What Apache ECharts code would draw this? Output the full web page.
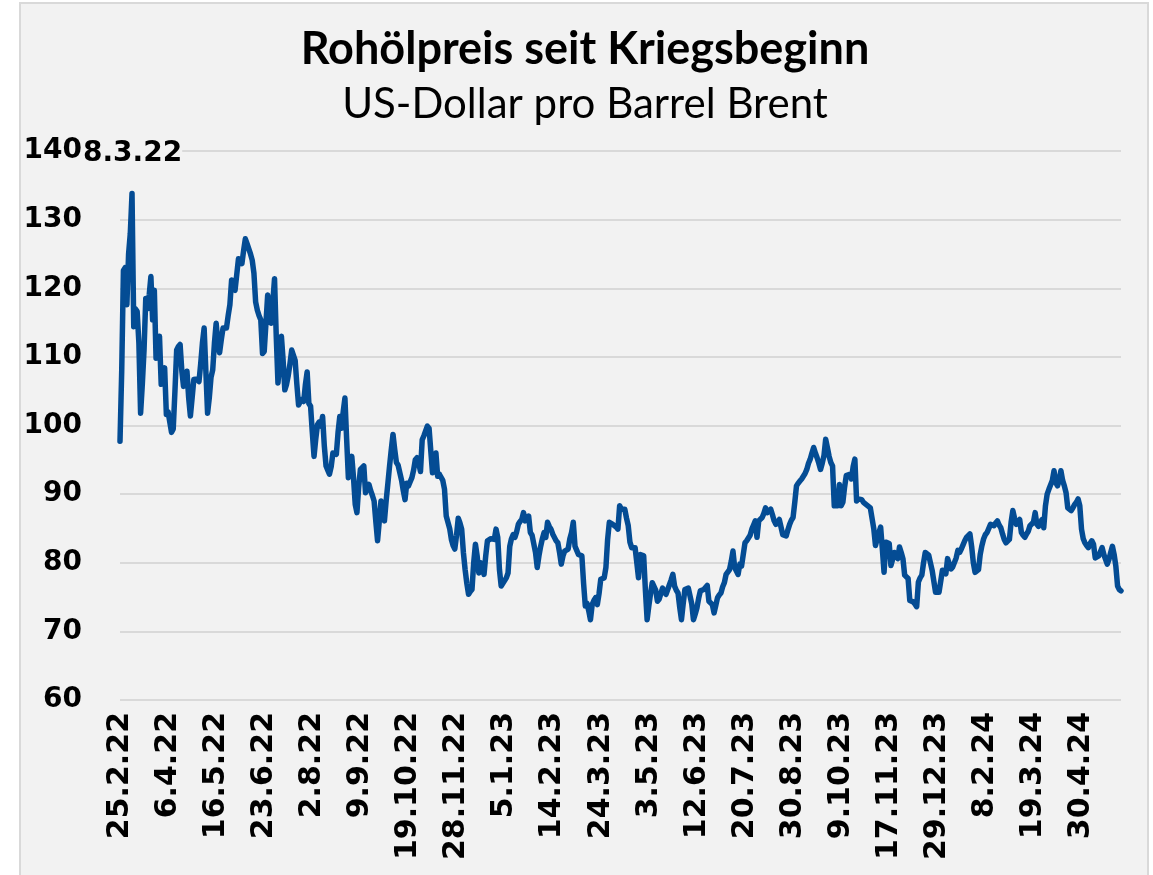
<!DOCTYPE html>
<html>
<head>
<meta charset="utf-8">
<script src="https://cdn.jsdelivr.net/npm/echarts@6/dist/echarts.min.js"></script>
<style>
  html, body { margin: 0; padding: 0; background: #ffffff; width: 1153px; height: 875px; overflow: hidden; }
  #frame { position: absolute; left: 19px; top: 2px; width: 1126px; height: 900px; background: #f2f2f2; border: 2px solid #d9d9d9; }
  #chart { position: absolute; left: 0; top: 0; width: 1153px; height: 875px; }
</style>
</head>
<body>
<div id="frame"></div>
<div id="chart"></div>
<script>
// Tick labels shown every 28 trading days
const tickLabels = ['25.2.22','6.4.22','16.5.22','23.6.22','2.8.22','9.9.22','19.10.22','28.11.22','5.1.23','14.2.23','24.3.23','3.5.23','12.6.23','20.7.23','30.8.23','9.10.23','17.11.23','29.12.23','8.2.24','19.3.24','30.4.24'];
const tickStep = 28;
const peakLabel = '8.3.22';
const yTicks = [60, 70, 80, 90, 100, 110, 120, 130, 140];

// Brent price, USD per barrel, one value per trading day from 25.2.22
const prices2022a = [
  97.7,108,122.6,123,117.6,125,128,133.8,114.4,117,116.6,112,101.8,106,111,118.5,117,119,121.7,115.4,
  119.7,109.8,110.5,113,106,107,108.4,101.6,102,100.5,99,99.5,105,111,111.5,111.8,108,105.7,106.5,107.9,
  104,101.4,104,106.7,106.5,106.8,106.4,109,112,114.2,108,101.8,104,107,108.1,112,114.9,112,110.6,112.5,
  114.2,114,114.2,116,117.6,121.2,120,119.7,122,124.3,124.5,123.6,125.5,127.2,126.5,126.3,125,124.1,122.2,118,
  116.8,116,115.4,110.5,110.8,111,119,117,114.9,118,121.4,113,106.2,109,113,109.5,105.2,106,107.3,109
];
const prices2022b = [
  111,111.2,109.5,106,103,103.5,103.8,103.5,106,107.8,103.2,102.8,99,95.5,98,100.1,100.5,99.9,101.3,97,
  94.1,93.5,92.9,94,96,96.2,95.8,99,101.3,99.6,102,104,98,92.4,94,95.5,92.4,88.5,87.3,91,
  93.6,93.8,94.1,90.2,91,91.4,90.5,89.8,89,86,83.2,86,89,88,86.1,89,91.5,94.1,96.5,98.7,
  96.5,94.6,94.2,94.3,92,90.5,89.2,91.6,91.2,91.8,92.4,93.5,95,95.3,94.5,93.3,97.9,98.5,99.2,99.9,
  99.6,99.4,93.1,95,96,92.6,92.9,93.1,92,90.7,86.8,87,85,83.4,82.5,82,84,86.5,85.8,84.9
];
const prices2023a = [
  81.5,79,77,75.4,75.8,76.1,80,82.7,81,78.5,80,79.5,78.3,81,83.2,83.3,83.5,83.7,83.4,84.9,
  83.7,79,76.6,77,77.1,77.8,78.5,82.4,83.5,84.1,83.7,84.5,85.6,86,86.3,87.3,86.1,86.5,86.8,84.4,
  84,83.9,81.5,79.3,81,82.4,83.5,84.4,83.7,85.9,85.3,84.9,84.2,83.7,83.2,82.9,81.5,79.8,81,81.7,
  81.9,82,83.5,84.4,85.9,82.4,81.8,81.2,81.1,81,77,73.7,74.1,73,71.7,73.9,74.5,74.9,73.9,75.5,
  77.6,77.8,77.8,79.3,83.4,85.9,85.8,85.6,85.6,85.2,84.9,88.3,87.8,87.6,87.8,86.5,85.4,83,82.2,82
];
const prices2023b = [
  82.2,80,77.8,81.2,81.1,81,76,71.7,73.7,75.5,77.1,77.3,76,74.4,74.7,74.9,76.3,75.8,75.4,76.1,
  76.8,77.5,78.3,76.6,76,75.6,73.5,71.7,74,76.1,76.2,76.3,76.1,74,71.7,72.5,73.4,74.8,75.9,76,
  76.1,76.4,76.7,74.4,74.2,73.9,72.7,73.8,74.9,75.3,75.6,76.5,77.1,78.3,78.5,79,80.2,81.7,79.3,78.8,
  78.3,79.8,79.5,79.3,82.9,83.2,83.4,84,84.9,85.5,86.1,83.7,86.1,86.3,86.6,87.2,88,87.3,87.5,87.8,
  87,86.1,85.6,85.4,86.3,85.2,84.1,84,83.9,84.8,85.6,86.2,86.6,88.8,91.2,91.6,91.9,92.2,92.4,93
];
const prices2023c = [
  93.6,94.5,95.1,96,96.8,96,95.3,94.5,93.6,94.5,95.6,98,96.8,95.5,94.6,94.1,88.3,88.5,88.3,91.4,
  88.3,88.8,91,92.7,92.8,92.9,92.2,94,95.1,89,89.3,89.5,89.2,88.8,88.6,88.4,88.3,88,87.8,85,
  82.5,83.5,84.4,85.2,82,78.6,83,82.9,82.8,79.6,80.5,81.5,81,80.6,82.3,81.5,80.6,78.2,78,77.7,
  74.5,74.4,74.3,74,73.6,77.2,77.8,78.2,80,81.5,81.3,81.1,80,78.9,77.3,75.7,75.7,75.7,75.7,78.9,
  78.7,78.4,80.6,79.8,79.1,79.4,79.6,80.7,81.8,81.5,82,82.6,83.2,83.7,83.9,84.2,82.4,80,78.6,78.8
];
const prices2024 = [
  79,81.2,82.5,83.5,84.1,84.4,84.6,85.6,85.5,85.4,85.8,86.1,85.5,85.1,84.2,83.4,82.9,83.1,83.4,85.9,
  87.6,86.5,85.6,86,86.3,84.4,84,83.7,84.2,84.6,85.4,85.6,85.9,87.3,85.6,85.3,85.1,86.3,85.1,88.3,
  90,90.7,90.7,92,93.4,91.7,91.2,92,93.4,92,91.2,90.2,88,87.8,87.6,88,88.5,88.8,89.3,88.3,
  84.9,83.5,82.9,82.5,82.2,82.8,83.2,82.7,80.7,80.8,81,81.6,82.2,81.2,80.5,79.8,80.5,81.5,82.4,81.2,
  79.5,76.6,76.1,75.9
];

const prices = [].concat(prices2022a, prices2022b, prices2023a, prices2023b, prices2023c, prices2024);
const categories = prices.map((_, i) => i);

const chart = echarts.init(document.getElementById('chart'), null, { renderer: 'canvas' });
const labelFont = 'DejaVu Sans';

chart.setOption({
  backgroundColor: 'transparent',
  animation: false,
  graphic: [
    {
      type: 'text',
      x: 585,
      y: 27,
      style: {
        text: 'Rohölpreis seit Kriegsbeginn',
        align: 'center',
        verticalAlign: 'top',
        fontFamily: 'Lato',
        fontWeight: 'bold',
        fontSize: 45,
        fill: '#000000'
      }
    },
    {
      type: 'text',
      x: 585,
      y: 83,
      style: {
        text: 'US-Dollar pro Barrel Brent',
        align: 'center',
        verticalAlign: 'top',
        fontFamily: 'Lato',
        fontWeight: 'normal',
        fontSize: 42,
        fill: '#000000'
      }
    },
    {
      type: 'text',
      left: 83,
      top: 140,
      z: 10,
      style: {
        text: peakLabel,
        fontFamily: labelFont,
        fontWeight: 'bold',
        fontSize: 28,
        fill: '#000000',
        backgroundColor: '#f2f2f2'
      }
    }
  ],
  grid: { left: 120, right: 32, top: 151, bottom: 175, containLabel: false },
  xAxis: {
    type: 'category',
    data: categories,
    boundaryGap: false,
    axisLine: { show: false },
    axisTick: { show: false },
    splitLine: { show: false },
    axisLabel: {
      interval: tickStep - 1,
      rotate: 90,
      margin: 12,
      fontFamily: labelFont,
      fontWeight: 'bold',
      fontSize: 30,
      color: '#000000',
      formatter: (v) => {
        const i = Number(v);
        return i % tickStep === 0 && tickLabels[i / tickStep] ? tickLabels[i / tickStep] : '';
      }
    }
  },
  yAxis: {
    type: 'value',
    min: yTicks[0],
    max: yTicks[yTicks.length - 1],
    interval: 10,
    axisLine: { show: false },
    axisTick: { show: false },
    splitLine: { lineStyle: { color: '#d9d9d9', width: 2 } },
    axisLabel: {
      margin: 38,
      fontFamily: labelFont,
      fontWeight: 'bold',
      fontSize: 28,
      color: '#000000'
    }
  },
  series: [
    {
      type: 'line',
      data: prices,
      showSymbol: false,
      symbol: 'none',
      lineStyle: { color: '#044c94', width: 5.5, cap: 'round', join: 'round' }
    }
  ]
});
</script>
</body>
</html>
